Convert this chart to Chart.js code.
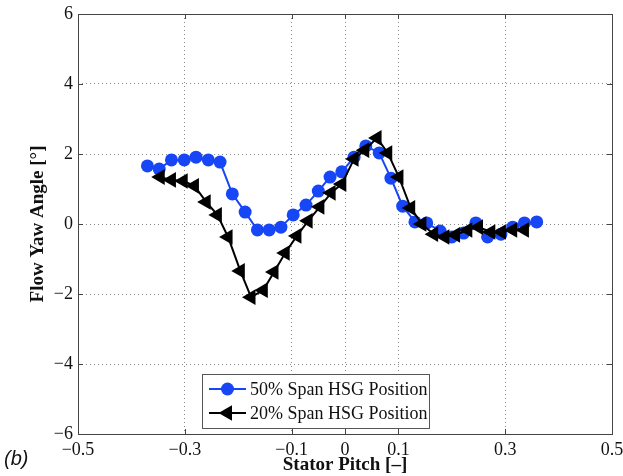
<!DOCTYPE html>
<html>
<head>
<meta charset="utf-8">
<script src="https://cdn.jsdelivr.net/npm/chart.js@4.4.1/dist/chart.umd.min.js"></script>
<style>
  html, body { margin: 0; padding: 0; background: #fff; }
  #wrap { position: relative; width: 623px; height: 476px; }
</style>
</head>
<body>
<div id="wrap"><canvas id="yawChart" width="623" height="476"></canvas></div>
<script>
// axis ticks
const xTicks = [-0.5, -0.3, -0.1, 0, 0.1, 0.3, 0.5];
const yTicks = [-6, -4, -2, 0, 2, 4, 6];

// 50% span (blue circles)
const span50X = [-0.370, -0.348, -0.325, -0.301, -0.279, -0.256, -0.234, -0.211, -0.187, -0.164, -0.142,
                 -0.120, -0.097, -0.073, -0.050, -0.028, -0.006, 0.017, 0.039, 0.064, 0.086, 0.108,
                 0.131, 0.153, 0.178, 0.200, 0.222, 0.245, 0.267, 0.292, 0.314, 0.336, 0.359];
const span50Y = [1.66, 1.57, 1.83, 1.83, 1.91, 1.83, 1.77, 0.86, 0.34, -0.17, -0.17,
                 -0.09, 0.26, 0.54, 0.94, 1.34, 1.49, 1.91, 2.23, 2.03, 1.31, 0.51,
                 0.06, 0.03, -0.20, -0.37, -0.26, 0.03, -0.37, -0.29, -0.09, 0.03, 0.06];

// 20% span (black left triangles)
const span20X = [-0.346, -0.325, -0.303, -0.282, -0.260, -0.239, -0.219, -0.196, -0.176, -0.153, -0.133,
                 -0.112, -0.090, -0.069, -0.047, -0.026, -0.006, 0.017, 0.037, 0.060, 0.080, 0.101,
                 0.123, 0.144, 0.166, 0.187, 0.207, 0.230, 0.250, 0.273, 0.293, 0.314, 0.336];
const span20Y = [1.34, 1.26, 1.23, 1.09, 0.63, 0.26, -0.37, -1.34, -2.09, -1.89, -1.37,
                 -0.83, -0.34, 0.09, 0.49, 0.89, 1.14, 1.86, 2.11, 2.46, 2.03, 1.34,
                 0.46, 0.00, -0.29, -0.37, -0.31, -0.17, -0.09, -0.23, -0.23, -0.17, -0.17];

const seriesLabels = ['50% Span HSG Position', '20% Span HSG Position'];

const BLUE = '#1646f5';
const serif = '"Liberation Serif", "Times New Roman", serif';

function fmt(v) {
    const s = String(Math.abs(v));
    return v < 0 ? '\u2212' + s : s;
}

// box, inward tick marks, legend and panel letter
const decorPlugin = {
    id: 'decor',
    beforeDatasetsDraw(chart) {
        const { ctx, chartArea: a, scales } = chart;
        ctx.save();
        ctx.strokeStyle = '#444';
        ctx.lineWidth = 1;
        const tl = 5;
        ctx.beginPath();
        xTicks.forEach(v => {
            const px = Math.round(scales.x.getPixelForValue(v)) + 0.5;
            ctx.moveTo(px, a.bottom); ctx.lineTo(px, a.bottom - tl);
            ctx.moveTo(px, a.top); ctx.lineTo(px, a.top + tl);
        });
        yTicks.forEach(v => {
            const py = Math.round(scales.y.getPixelForValue(v)) + 0.5;
            ctx.moveTo(a.left, py); ctx.lineTo(a.left + tl, py);
            ctx.moveTo(a.right, py); ctx.lineTo(a.right - tl, py);
        });
        ctx.stroke();
        ctx.strokeRect(Math.round(a.left) + 0.5, Math.round(a.top) + 0.5,
                       Math.round(a.right - a.left), Math.round(a.bottom - a.top));
        ctx.restore();
    },
    afterDatasetsDraw(chart) {
        const { ctx } = chart;
        ctx.save();
        // legend box
        ctx.fillStyle = '#fff';
        ctx.fillRect(202, 374, 227, 54);
        ctx.strokeStyle = '#555';
        ctx.lineWidth = 1;
        ctx.strokeRect(202.5, 374.5, 227, 54);
        chart.data.datasets.forEach((ds, i) => {
            const y = 389 + i * 24;
            ctx.strokeStyle = ds.borderColor;
            ctx.lineWidth = 2;
            ctx.beginPath();
            ctx.moveTo(209, y); ctx.lineTo(246, y);
            ctx.stroke();
            ctx.fillStyle = ds.backgroundColor;
            Chart.helpers.drawPoint(ctx, {
                pointStyle: ds.pointStyle, radius: ds.pointRadius,
                rotation: ds.pointRotation || 0, borderWidth: 0
            }, 227.5, y);
            ctx.fillStyle = '#111';
            ctx.font = '18px ' + serif;
            ctx.textBaseline = 'middle';
            ctx.textAlign = 'left';
            ctx.fillText(ds.label, 250, y + 1);
        });
        // panel letter
        ctx.fillStyle = '#111';
        ctx.font = 'italic 20px "Liberation Sans", Arial, sans-serif';
        ctx.textBaseline = 'middle';
        ctx.fillText('(b)', 4, 459);
        ctx.restore();
    }
};

new Chart(document.getElementById('yawChart'), {
    type: 'line',
    data: {
        datasets: [
            {
                label: seriesLabels[0],
                data: span50X.map((x, i) => ({ x: x, y: span50Y[i] })),
                borderColor: BLUE,
                backgroundColor: BLUE,
                borderWidth: 2,
                pointStyle: 'circle',
                pointRadius: 6.5,
                pointBorderWidth: 0,
                tension: 0,
                order: 1
            },
            {
                label: seriesLabels[1],
                data: span20X.map((x, i) => ({ x: x, y: span20Y[i] })),
                borderColor: '#000',
                backgroundColor: '#000',
                borderWidth: 2,
                pointStyle: 'triangle',
                pointRotation: -90,
                pointRadius: 9,
                pointBorderWidth: 0,
                tension: 0,
                order: 0
            }
        ]
    },
    options: {
        responsive: false,
        animation: false,
        layout: { padding: { left: 0, right: 11, top: 14, bottom: 0 } },
        plugins: { legend: { display: false }, tooltip: { enabled: false } },
        scales: {
            x: {
                type: 'linear',
                min: -0.5, max: 0.5,
                afterBuildTicks: s => { s.ticks = xTicks.map(v => ({ value: v })); },
                afterFit: s => { s.height = 42; s.paddingLeft = 0; s.paddingRight = 0; },
                grid: { color: '#8a8a8a', lineWidth: 1, drawTicks: false },
                border: { display: false, dash: [1, 3] },
                ticks: {
                    color: '#111', padding: 5, maxRotation: 0, autoSkip: false,
                    font: { family: serif, size: 18 },
                    callback: v => fmt(v)
                },
                title: {
                    display: true, text: 'Stator Pitch [\u2013]', color: '#111',
                    font: { family: serif, size: 19, weight: 'bold' },
                    padding: { top: 0, bottom: 0 }
                }
            },
            y: {
                min: -6, max: 6,
                afterBuildTicks: s => { s.ticks = yTicks.map(v => ({ value: v })); },
                afterFit: s => { s.width = 78; s.paddingTop = 0; s.paddingBottom = 0; },
                grid: { color: '#8a8a8a', lineWidth: 1, drawTicks: false },
                border: { display: false, dash: [1, 3] },
                ticks: {
                    color: '#111', padding: 5,
                    font: { family: serif, size: 18 },
                    callback: v => fmt(v)
                },
                title: {
                    display: true, text: 'Flow Yaw Angle [\u00b0]', color: '#111',
                    font: { family: serif, size: 19, weight: 'bold' },
                    padding: { top: 27, bottom: 0 }
                }
            }
        }
    },
    plugins: [decorPlugin]
});
</script>
</body>
</html>
